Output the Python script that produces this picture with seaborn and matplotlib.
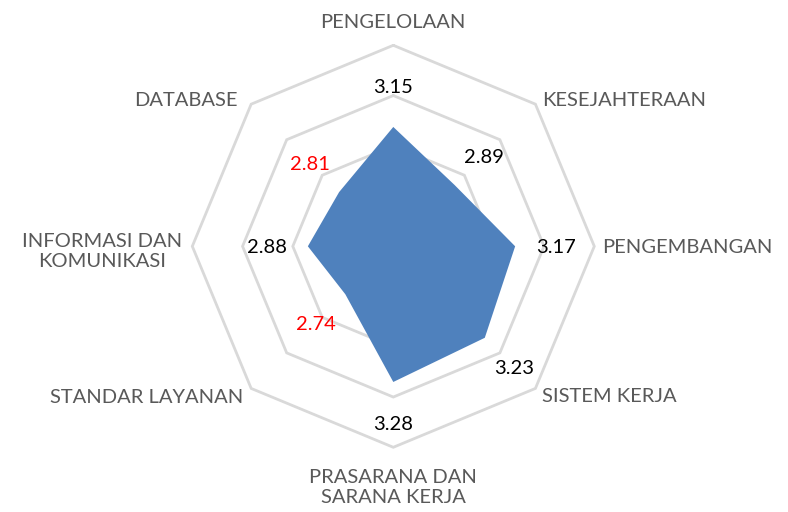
import numpy as np
import matplotlib
matplotlib.use("Agg")
import matplotlib.pyplot as plt
import seaborn as sns

# ---- data ----
categories = ["PENGELOLAAN", "KESEJAHTERAAN", "PENGEMBANGAN", "SISTEM KERJA",
              "PRASARANA DAN\nSARANA KERJA", "STANDAR LAYANAN",
              "INFORMASI DAN\nKOMUNIKASI", "DATABASE"]
values = [3.15, 2.89, 3.17, 3.23, 3.28, 2.74, 2.88, 2.81]
value_labels = ["3.15", "2.89", "3.17", "3.23", "3.28", "2.74", "2.88", "2.81"]
r_min, r_max, r_step = 2.2, 3.8, 0.4
highlight_below = 2.85

sns.set_theme(style="white")
plt.rcParams["font.family"] = ["Lato", "DejaVu Sans"]

fig = plt.figure(figsize=(7.88, 5.12), dpi=100)
fig.patch.set_facecolor("white")
ax = fig.add_axes([0.24403, 0.12637, 0.51015, 0.78516], projection="polar")
ax.set_theta_zero_location("N")
ax.set_theta_direction(-1)
ax.set_ylim(r_min, r_max)

n = len(categories)
theta = np.linspace(0, 2 * np.pi, n, endpoint=False)
theta_c = np.append(theta, theta[0])

# octagon grid rings
for r in np.arange(r_min + r_step, r_max + 1e-9, r_step):
    ax.plot(theta_c, [r] * (n + 1), color="#d9d9d9", lw=2.0, zorder=1,
            clip_on=False, solid_joinstyle="miter")

vals_c = np.append(values, values[0])
ax.fill(theta_c, vals_c, color=sns.color_palette(["#4f81bd"])[0], lw=0, zorder=2)

ax.set_xticks([])
ax.set_yticks([])
ax.grid(False)
ax.spines["polar"].set_visible(False)
ax.set_facecolor("white")

# category labels (offsets in pixels from outer vertex; baseline of last line)
cat_pos = [
    (0, 17.7, "center"),
    (6.7, -1.7, "left"),
    (8.3, -7.0, "left"),
    (6.7, -13.2, "left"),
    (0, -56.0, "center"),
    (-8.0, -14.8, "right"),
    (-10.0, -20.5, "right"),
    (-13.4, -1.7, "right"),
]
for t, lab, (dx, dy, ha) in zip(theta, categories, cat_pos):
    ax.annotate(lab, xy=(t, r_max), xycoords="data", xytext=(dx, dy),
                textcoords="offset pixels", ha=ha, va="baseline",
                multialignment="center", fontsize=14.5, color="#595959",
                annotation_clip=False, linespacing=1.2)

# data labels
off = 41
for t, v, lab in zip(theta, values, value_labels):
    col = "#ff0000" if v < highlight_below else "#000000"
    ax.annotate(lab, xy=(t, v), xycoords="data",
                xytext=(off * np.sin(t), off * np.cos(t)),
                textcoords="offset pixels", ha="center", va="center_baseline",
                fontsize=14.5, color=col, annotation_clip=False, zorder=5)

fig.savefig("out.png", dpi=100, facecolor="white")
